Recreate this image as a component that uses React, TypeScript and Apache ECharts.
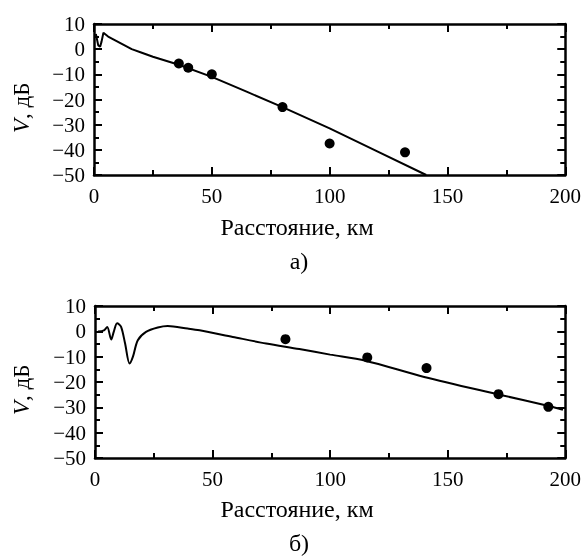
import React, { useEffect, useRef } from "react";
import * as echarts from "echarts";

// Panel (a)
const lineA: [number, number][] = [
  [0.8, 6], [1.8, 1.5], [2.6, 1], [3.2, 3], [4, 6.5], [6, 5], [9, 3.5], [12, 2],
  [16, 0], [20, -1.3], [25, -3], [36, -6.2], [50, -11], [65, -17], [80, -23],
  [100, -31.5], [120, -40.5], [141, -50],
];
const pointsA: [number, number][] = [
  [36, -5.7], [40, -7.4], [50, -10], [80, -23], [100, -37.5], [132, -41],
];

// Panel (b)
const lineB: [number, number][] = [
  [1.3, -0.1], [3.8, 0.4], [5.2, 1.7], [6.9, -3.2], [8, -0.1], [9.4, 3.2],
  [11.1, 1.8], [12.8, -4.8], [14.7, -12.7], [16.1, -10.1], [18.2, -3.5],
  [21.7, -0.2], [26.7, 1.5], [30.9, 2.1], [39.4, 1.1], [44.5, 0.4],
  [58.6, -2.2], [72.8, -4.8], [86.9, -7], [100, -9.2], [115, -11.6],
  [140, -18], [172, -25], [193, -29.5], [199, -31],
];
const pointsB: [number, number][] = [
  [81, -3.1], [115.8, -10.3], [141, -14.5], [171.6, -24.8], [192.8, -29.8],
];

const xTitle = "Расстояние, км";
const yTitleItalic = "V";
const yTitleRest = ", дБ";
const panelLabels = ["а)", "б)"];

const FONT = "Liberation Serif";

export default function App() {
  const ref = useRef<HTMLDivElement>(null);
  useEffect(() => {
    if (!ref.current) return;
    const chart = echarts.init(ref.current, undefined, { renderer: "svg" });
    const fmt = (v: number) => String(v).replace("-", "\u2212");
    const axisLine = () => ({ show: true, onZero: false, lineStyle: { color: "#000", width: 2.5 } });
    const xAx = (grid: number, pos: "top" | "bottom") => ({
      type: "value", gridIndex: grid, position: pos, min: 0, max: 200, interval: 50,
      axisLine: axisLine(),
      axisTick: { show: true, inside: true, length: 8, lineStyle: { color: "#000", width: 2 } },
      minorTick: { show: true, splitNumber: 2, length: 5, lineStyle: { color: "#000", width: 2 } },
      splitLine: { show: false },
      axisLabel: { show: pos === "bottom", fontFamily: FONT, fontSize: 21, color: "#000", margin: 10 },
    });
    const yAx = (grid: number, pos: "left" | "right") => ({
      type: "value", gridIndex: grid, position: pos, min: -50, max: 10, interval: 10,
      axisLine: axisLine(),
      axisTick: { show: true, inside: true, length: 8, lineStyle: { color: "#000", width: 2 } },
      minorTick: { show: true, splitNumber: 2, length: 5, lineStyle: { color: "#000", width: 2 } },
      splitLine: { show: false },
      axisLabel: { show: pos === "left", fontFamily: FONT, fontSize: 21, color: "#000", margin: 9, formatter: fmt },
    });

    const offsets = [0, 282];
    const graphics: any[] = [];
    offsets.forEach((dy, i) => {
      graphics.push({
        type: "text", x: 297, y: 227 + dy,
        style: { text: xTitle, fontFamily: FONT, fontSize: 24, fill: "#000", align: "center", verticalAlign: "middle" },
      });
      graphics.push({
        type: "text", x: 299, y: 261 + dy,
        style: { text: panelLabels[i], fontFamily: FONT, fontSize: 24, fill: "#000", align: "center", verticalAlign: "middle" },
      });
      graphics.push({
        type: "text", x: 21, y: 119 + dy, rotation: Math.PI / 2,
        style: { text: yTitleItalic, fontFamily: FONT, fontSize: 23, fontStyle: "italic", fill: "#000", align: "right", verticalAlign: "middle" },
      });
      graphics.push({
        type: "text", x: 21, y: 119 + dy, rotation: Math.PI / 2,
        style: { text: yTitleRest, fontFamily: FONT, fontSize: 23, fill: "#000", align: "left", verticalAlign: "middle" },
      });
    });
    chart.setOption({
      animation: false,
      grid: [
        { left: 94, right: 18, top: 24, height: 151 },
        { left: 95, right: 18, top: 306, height: 152 },
      ],
      xAxis: [xAx(0, "bottom"), xAx(0, "top"), xAx(1, "bottom"), xAx(1, "top")],
      yAxis: [yAx(0, "left"), yAx(0, "right"), yAx(1, "left"), yAx(1, "right")],
      graphic: graphics,
      series: [
        { type: "line", xAxisIndex: 0, yAxisIndex: 0, data: lineA, showSymbol: false, lineStyle: { color: "#000", width: 2 }, clip: true },
        { type: "scatter", xAxisIndex: 0, yAxisIndex: 0, data: pointsA, symbolSize: 10, itemStyle: { color: "#000", opacity: 1 } },
        { type: "line", xAxisIndex: 2, yAxisIndex: 2, data: lineB, showSymbol: false, smooth: 0.3, lineStyle: { color: "#000", width: 2 }, clip: true },
        { type: "scatter", xAxisIndex: 2, yAxisIndex: 2, data: pointsB, symbolSize: 10, itemStyle: { color: "#000", opacity: 1 } },
      ],
    });
    return () => chart.dispose();
  }, []);
  return <div ref={ref} style={{ position: "fixed", left: 0, top: 0, width: 584, height: 559 }} />;
}
